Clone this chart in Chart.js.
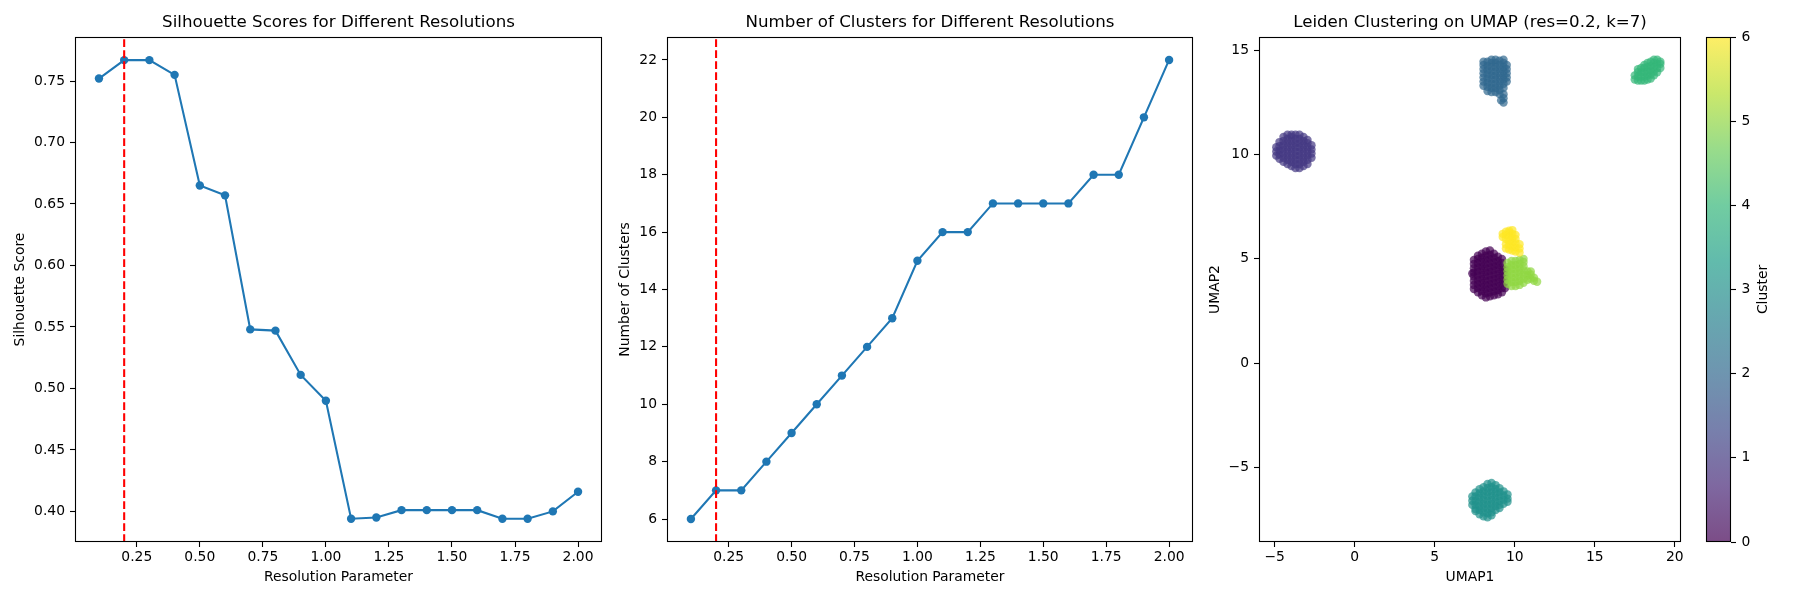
<!DOCTYPE html>
<html>
<head>
<meta charset="utf-8">
<script src="https://cdn.jsdelivr.net/npm/chart.js@4.4.1/dist/chart.umd.min.js"></script>
<style>
  html, body { margin: 0; padding: 0; background: #fff; }
  body { width: 1800px; height: 600px; position: relative; overflow: hidden; }
  canvas { position: absolute; top: 0; }
</style>
</head>
<body>
<canvas id="silCanvas" width="620" height="600" style="left:0px;width:620px;height:600px"></canvas>
<canvas id="cntCanvas" width="620" height="600" style="left:600px;width:620px;height:600px"></canvas>
<canvas id="umapCanvas" width="500" height="600" style="left:1200px;width:500px;height:600px"></canvas>
<canvas id="cbarCanvas" width="100" height="600" style="left:1700px;width:100px;height:600px"></canvas>
<canvas id="cbarLabelCanvas" width="50" height="600" style="left:1750px;width:50px;height:600px"></canvas>
<script>
// ---------------- data ----------------
const resolutions = [0.1,0.2,0.3,0.4,0.5,0.6,0.7,0.8,0.9,1.0,1.1,1.2,1.3,1.4,1.5,1.6,1.7,1.8,1.9,2.0];
const silhouetteScores = [0.752,0.767,0.767,0.755,0.665,0.657,0.548,0.547,0.511,0.490,0.394,0.395,0.401,0.401,0.401,0.401,0.394,0.394,0.400,0.416];
const clusterCounts = [6,7,7,8,9,10,11,12,13,15,16,16,17,17,17,17,18,18,20,22];
const selectedResolution = 0.2;

const resolutionTicks = [0.25,0.5,0.75,1.0,1.25,1.5,1.75,2.0];
const silhouetteTicks = [0.40,0.45,0.50,0.55,0.60,0.65,0.70,0.75];
const clusterCountTicks = [6,8,10,12,14,16,18,20,22];
const umap1Ticks = [-5,0,5,10,15,20];
const umap2Ticks = [-5,0,5,10,15];
const colorbarTicks = [0,1,2,3,4,5,6];
const clusterIds = [0,1,2,3,4,5,6];

// UMAP points per cluster: [UMAP1, [UMAP2 values...]]
const cluster0Cols = [
  [7.35,[4.3]],
  [7.45,[3.55,3.75,3.95,4.15,4.35,4.55,4.75,4.95]],
  [7.7,[3.4,3.6,3.8,4.0,4.2,4.4,4.6,4.8,5.0,5.15]],
  [7.95,[3.25,3.45,3.65,3.85,4.05,4.25,4.45,4.65,4.85,5.05,5.25]],
  [8.2,[3.15,3.35,3.55,3.75,3.95,4.15,4.35,4.55,4.75,4.95,5.15,5.35]],
  [8.45,[3.2,3.4,3.6,3.8,4.0,4.2,4.4,4.6,4.8,5.0,5.2,5.4]],
  [8.7,[3.25,3.45,3.65,3.85,4.05,4.25,4.45,4.65,4.85,5.05,5.25]],
  [8.95,[3.3,3.5,3.7,3.9,4.1,4.3,4.5,4.7,4.9,5.1]],
  [9.2,[3.4,3.6,3.8,4.0,4.2,4.4,4.6,4.8,5.0]],
  [9.4,[3.6,3.9,4.2,4.5]]
];
const cluster1Cols = [
  [-4.9,[9.95,10.15,10.35]],
  [-4.7,[9.8,10.0,10.2,10.4,10.6]],
  [-4.45,[9.65,9.85,10.05,10.25,10.45,10.65,10.85]],
  [-4.2,[9.55,9.75,9.95,10.15,10.35,10.55,10.75,10.95]],
  [-3.95,[9.45,9.65,9.85,10.05,10.25,10.45,10.65,10.85,10.95]],
  [-3.7,[9.35,9.55,9.75,9.95,10.15,10.35,10.55,10.75,10.95]],
  [-3.45,[9.35,9.55,9.75,9.95,10.15,10.35,10.55,10.75,10.95]],
  [-3.2,[9.45,9.65,9.85,10.05,10.25,10.45,10.65,10.85]],
  [-2.95,[9.55,9.75,9.95,10.15,10.35,10.55,10.7]],
  [-2.7,[9.85,10.05,10.25,10.45]]
];
const cluster2Cols = [
  [8.05,[13.3,13.5,13.7,13.9,14.1,14.3,14.45]],
  [8.3,[13.05,13.25,13.45,13.65,13.85,14.05,14.25,14.45]],
  [8.55,[13.0,13.2,13.4,13.6,13.8,14.0,14.2,14.4,14.55]],
  [8.8,[13.0,13.2,13.4,13.6,13.8,14.0,14.2,14.4,14.55]],
  [9.05,[12.9,13.1,13.3,13.5,13.7,13.9,14.1,14.3,14.5]],
  [9.15,[12.6]],
  [9.3,[12.5,12.7,12.9,13.2,13.4,13.6,13.8,14.0,14.2,14.4,14.55]],
  [9.5,[13.5,13.7,13.9,14.1,14.3]]
];
const cluster3Cols = [
  [7.35,[-6.4,-6.6,-6.8]],
  [7.55,[-6.2,-6.4,-6.6,-6.8,-7.0,-7.1]],
  [7.8,[-6.05,-6.25,-6.45,-6.65,-6.85,-7.05,-7.25]],
  [8.05,[-5.95,-6.15,-6.35,-6.55,-6.75,-6.95,-7.15,-7.35]],
  [8.3,[-5.8,-6.0,-6.2,-6.4,-6.6,-6.8,-7.0,-7.2,-7.4]],
  [8.55,[-5.75,-5.95,-6.15,-6.35,-6.55,-6.75,-6.95,-7.15,-7.3]],
  [8.8,[-5.85,-6.05,-6.25,-6.45,-6.65,-6.85,-7.05]],
  [9.05,[-6.0,-6.2,-6.4,-6.6,-6.8,-6.95]],
  [9.3,[-6.15,-6.35,-6.55,-6.75]],
  [9.55,[-6.3,-6.5,-6.65]]
];
const cluster4Cols = [
  [17.5,[13.6,13.8]],
  [17.7,[13.55,13.75,13.95,14.1]],
  [17.9,[13.55,13.75,13.95,14.15]],
  [18.1,[13.55,13.75,13.95,14.15,14.3]],
  [18.3,[13.6,13.8,14.0,14.2,14.4]],
  [18.5,[13.65,13.85,14.05,14.25,14.45]],
  [18.7,[13.8,14.0,14.2,14.4,14.55]],
  [18.9,[13.95,14.15,14.35,14.55]],
  [19.1,[14.15,14.35,14.45]]
];
const cluster5Cols = [
  [9.55,[3.8,4.0,4.2,4.4,4.6,4.8]],
  [9.8,[3.7,3.9,4.1,4.3,4.5,4.7,4.9]],
  [10.05,[3.7,3.9,4.1,4.3,4.5,4.7,4.9]],
  [10.3,[3.75,3.95,4.15,4.35,4.55,4.75,4.95]],
  [10.55,[3.85,4.05,4.25,4.45,4.65,4.85,5.0]],
  [10.8,[4.0,4.2,4.4]],
  [11.0,[4.05,4.25,4.4]],
  [11.2,[3.95,4.1]],
  [11.4,[3.9]]
];
const cluster6Cols = [
  [9.25,[6.05,6.2]],
  [9.45,[5.5,5.7,5.95,6.15,6.3]],
  [9.65,[5.45,5.65,5.85,6.05,6.25,6.35]],
  [9.85,[5.4,5.6,5.8,6.0,6.2,6.38]],
  [10.05,[5.35,5.55,5.75,5.95,6.15]],
  [10.3,[5.3,5.5,5.7]]
];
const clusterColumns = [cluster0Cols, cluster1Cols, cluster2Cols, cluster3Cols, cluster4Cols, cluster5Cols, cluster6Cols];

// colours (viridis, alpha 0.7)
const clusterColors = ['rgba(68,1,84,0.7)','rgba(68,57,131,0.7)','rgba(49,104,142,0.7)','rgba(33,145,140,0.7)','rgba(53,183,121,0.7)','rgba(144,215,67,0.7)','rgba(253,231,37,0.7)'];
const viridisStops = ['rgba(68,1,84,0.7)','rgba(72,40,120,0.7)','rgba(62,74,137,0.7)','rgba(49,104,142,0.7)','rgba(38,130,142,0.7)','rgba(31,158,137,0.7)','rgba(53,183,121,0.7)','rgba(109,205,89,0.7)','rgba(180,222,44,0.7)','rgba(253,231,37,0.7)'];

// ---------------- styling ----------------
Chart.defaults.animation = false;
Chart.defaults.color = '#000';
Chart.defaults.font.family = 'DejaVu Sans';
const FONT_TITLE = {family:'DejaVu Sans', size:16.67, weight:'normal'};
const FONT_LABEL = {family:'DejaVu Sans', size:13.89, weight:'normal'};
const BLUE = '#1f77b4';

const framePlugin = {
  id: 'frame',
  afterDatasetsDraw(chart) {
    const a = chart.chartArea, ctx = chart.ctx;
    ctx.save();
    ctx.strokeStyle = '#000';
    ctx.lineWidth = 1.1;
    ctx.strokeRect(Math.round(a.left) + 0.5, Math.round(a.top) + 0.5, Math.round(a.right - a.left) - 1, Math.round(a.bottom - a.top) - 1);
    ctx.restore();
  }
};

function fitSize(size, horizontal) {
  return function(axis) {
    if (horizontal) axis.height = size; else axis.width = size;
    axis.paddingLeft = 0; axis.paddingRight = 0; axis.paddingTop = 0; axis.paddingBottom = 0;
  };
}
function setTicks(list) {
  return function(axis) { axis.ticks = list.map(v => ({value: v})); };
}
const tickGrid = {drawOnChartArea:false, drawTicks:true, tickLength:5, tickColor:'#000', tickWidth:1.1};
const minus = v => (v < 0 ? '\u2212' + Math.abs(v) : String(v));
function titleAxis(text, min, max) {
  return {type: 'linear', position: 'top', min: min, max: max, afterFit: fitSize(37, true),
          ticks: {display: false}, grid: {display: false}, border: {display: false},
          title: {display: true, text: text, font: FONT_TITLE, color: '#000', padding: {top: 13, bottom: 0}}};
}

function lineChart(canvasId, title, yLabel, values, yTicks, yMin, yMax, yFmt, yAxisWidth, yTitlePad, rightPad) {
  const pts = resolutions.map((x, i) => ({x: x, y: values[i]}));
  return new Chart(document.getElementById(canvasId), {
    type: 'line',
    data: {
      datasets: [
        {data: [{x: selectedResolution, y: yMin}, {x: selectedResolution, y: yMax}], borderColor: 'red', borderWidth: 2.08, borderDash: [7.7, 3.3], pointRadius: 0, order: 0},
        {data: pts, borderColor: BLUE, backgroundColor: BLUE, borderWidth: 2.08, pointRadius: 4.2, pointHoverRadius: 4.2, pointBorderWidth: 0, pointBackgroundColor: BLUE, tension: 0, order: 1}
      ]
    },
    options: {
      responsive: false,
      layout: {padding: {left: 0, right: rightPad, top: 0, bottom: 0}},
      plugins: {legend: {display: false}, tooltip: {enabled: false}},
      scales: {
        head: titleAxis(title, 0.005, 2.095),
        x: {type: 'linear', position: 'bottom', min: 0.005, max: 2.095,
            afterBuildTicks: setTicks(resolutionTicks), afterFit: fitSize(58, true),
            ticks: {callback: v => Number(v).toFixed(2), font: FONT_LABEL, color: '#000', padding: 2, maxRotation: 0, minRotation: 0, autoSkip: false},
            grid: tickGrid, border: {display: false},
            title: {display: true, text: 'Resolution Parameter', font: FONT_LABEL, color: '#000', padding: {top: 0, bottom: 14}}},
        y: {type: 'linear', position: 'left', min: yMin, max: yMax,
            afterBuildTicks: setTicks(yTicks), afterFit: fitSize(yAxisWidth, false),
            ticks: {callback: yFmt, font: FONT_LABEL, color: '#000', padding: 5, autoSkip: false},
            grid: tickGrid, border: {display: false},
            title: {display: true, text: yLabel, font: FONT_LABEL, color: '#000', padding: {top: yTitlePad, bottom: 0}}}
      }
    },
    plugins: [framePlugin]
  });
}

lineChart('silCanvas', 'Silhouette Scores for Different Resolutions', 'Silhouette Score',
  silhouetteScores, silhouetteTicks, 0.3751, 0.7858, v => Number(v).toFixed(2), 75, 11.7, 18);
lineChart('cntCanvas', 'Number of Clusters for Different Resolutions', 'Number of Clusters',
  clusterCounts, clusterCountTicks, 5.2, 22.8, v => String(v), 67, 17.4, 27);

// ---------------- UMAP scatter ----------------
new Chart(document.getElementById('umapCanvas'), {
  type: 'scatter',
  data: {
    datasets: clusterIds.map(k => ({
      label: 'Cluster ' + k,
      data: clusterColumns[k].flatMap(col => col[1].map(y => ({x: col[0], y: y}))),
      backgroundColor: clusterColors[k], pointBackgroundColor: clusterColors[k],
      borderWidth: 0, pointBorderWidth: 0, pointRadius: 4.2, pointHoverRadius: 4.2,
      order: -k
    }))
  },
  options: {
    responsive: false,
    layout: {padding: {left: 0, right: 19, top: 0, bottom: 0}},
    plugins: {legend: {display: false}, tooltip: {enabled: false}},
    scales: {
      head: titleAxis('Leiden Clustering on UMAP (res=0.2, k=7)', -5.98, 20.39),
      x: {type: 'linear', position: 'bottom', min: -5.98, max: 20.39,
          afterBuildTicks: setTicks(umap1Ticks), afterFit: fitSize(58, true),
          ticks: {callback: minus, font: FONT_LABEL, color: '#000', padding: 2, maxRotation: 0, minRotation: 0, autoSkip: false},
          grid: tickGrid, border: {display: false},
          title: {display: true, text: 'UMAP1', font: FONT_LABEL, color: '#000', padding: {top: 0, bottom: 14}}},
      y: {type: 'linear', position: 'left', min: -8.58, max: 15.64,
          afterBuildTicks: setTicks(umap2Ticks), afterFit: fitSize(59, false),
          ticks: {callback: minus, font: FONT_LABEL, color: '#000', padding: 5, autoSkip: false},
          grid: tickGrid, border: {display: false},
          title: {display: true, text: 'UMAP2', font: FONT_LABEL, color: '#000', padding: {top: 7, bottom: 0}}}
    }
  },
  plugins: [framePlugin]
});

// ---------------- colorbar ----------------
new Chart(document.getElementById('cbarCanvas'), {
  type: 'bar',
  data: {
    labels: ['Cluster'],
    datasets: [{
      data: [[clusterIds[0], clusterIds[clusterIds.length - 1]]],
      barPercentage: 1, categoryPercentage: 1, borderWidth: 0,
      backgroundColor: (ctx) => {
        const chart = ctx.chart, a = chart.chartArea;
        if (!a) return viridisStops[0];
        const g = chart.ctx.createLinearGradient(0, a.bottom, 0, a.top);
        viridisStops.forEach((c, i) => g.addColorStop(i / (viridisStops.length - 1), c));
        return g;
      }
    }]
  },
  options: {
    responsive: false,
    layout: {padding: {left: 6, right: 0, top: 37, bottom: 58}},
    plugins: {legend: {display: false}, tooltip: {enabled: false}},
    scales: {
      x: {display: false},
      y: {position: 'right', type: 'linear', min: 0, max: 6,
          afterBuildTicks: setTicks(colorbarTicks), afterFit: fitSize(69, false),
          ticks: {font: FONT_LABEL, color: '#000', padding: 5.5, autoSkip: false},
          grid: tickGrid, border: {display: false}}
    }
  },
  plugins: [framePlugin]
});

// colorbar label (left-positioned axis title reads bottom-to-top, like the reference)
new Chart(document.getElementById('cbarLabelCanvas'), {
  type: 'scatter',
  data: {datasets: []},
  options: {
    responsive: false,
    layout: {padding: {left: 0, right: 0, top: 37, bottom: 58}},
    plugins: {legend: {display: false}, tooltip: {enabled: false}},
    scales: {
      x: {display: false, min: 0, max: 1},
      y: {position: 'left', type: 'linear', min: 0, max: 6, afterFit: fitSize(40, false),
          ticks: {display: false}, grid: {display: false}, border: {display: false},
          title: {display: true, text: 'Cluster', font: FONT_LABEL, color: '#000', padding: {top: 5.2, bottom: 0}}}
    }
  }
});
</script>
</body>
</html>
